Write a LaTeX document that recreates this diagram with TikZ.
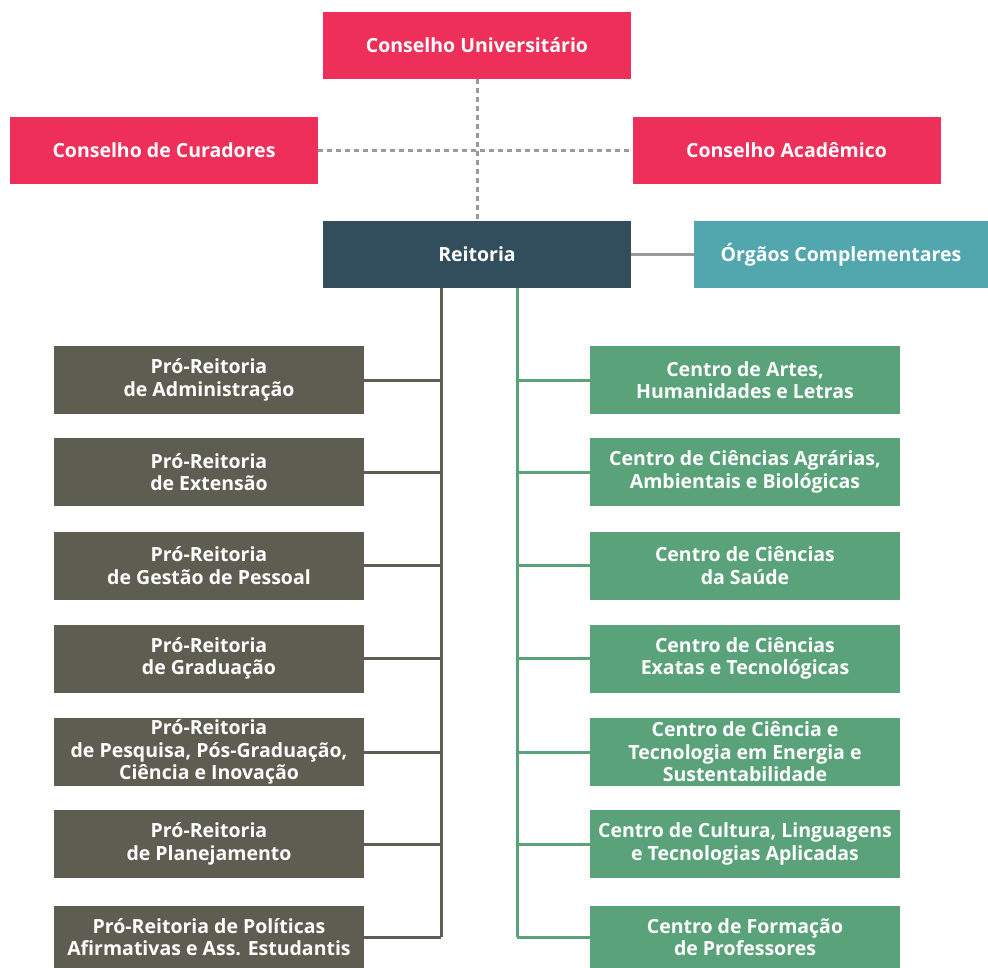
\documentclass[tikz,border=0pt]{standalone}
\usepackage{fontspec}
\setmainfont{Open Sans}
\definecolor{cpink}{HTML}{EE2F5A}
\definecolor{creit}{HTML}{324E5C}
\definecolor{corg}{HTML}{52A6AD}
\definecolor{cpro}{HTML}{5E5D52}
\definecolor{ccen}{HTML}{5AA37A}
\definecolor{cdot}{HTML}{9A9A9A}
\tikzset{
  box/.style={rectangle, inner sep=0pt, text=white, align=center,
    font=\fontsize{19.5}{22.5}\selectfont\bfseries, minimum width=308pt, minimum height=67pt},
  pink/.style={box, fill=cpink},
  reit/.style={box, fill=creit},
  orgbox/.style={box, fill=corg, minimum width=294pt},
  pro/.style={box, fill=cpro, minimum width=310pt, minimum height=68pt},
  cen/.style={box, fill=ccen, minimum width=310pt, minimum height=68pt},
  dots/.style={draw=cdot, line width=3pt, dash pattern=on 5pt off 4pt},
  proline/.style={draw=cpro, line width=3pt},
  cenline/.style={draw=ccen, line width=3pt},
  orgline/.style={draw=cdot, line width=3pt},
}
\begin{document}
\begin{tikzpicture}[x=1pt,y=-1pt]
\useasboundingbox (0,0) rectangle (988,967);
\node[pink] (cu) at (477,45.5) {Conselho Universitário};
\node[pink] (cc) at (164,150) {Conselho de Curadores};
\node[pink] (ca) at (786.5,150) {Conselho Acadêmico};
\node[reit] (re) at (477,254.5) {Reitoria};
\node[orgbox] (og) at (841,254.5) {Órgãos Complementares};

\node[pro] (p1) at (209,380) {Pró-Reitoria\\de Administração};
\node[pro] (p2) at (209,472) {Pró-Reitoria\\de Extensão};
\node[pro] (p3) at (209,565.5) {Pró-Reitoria\\de Gestão de Pessoal};
\node[pro] (p4) at (209,658.5) {Pró-Reitoria\\de Graduação};
\node[pro] (p5) at (209,752) {Pró-Reitoria\\de Pesquisa, Pós-Graduação,\\Ciência e Inovação};
\node[pro] (p6) at (209,844) {Pró-Reitoria\\de Planejamento};
\node[pro, minimum height=62pt] (p7) at (209,937) {Pró-Reitoria de Políticas\\Afirmativas e Ass. Estudantis};

\node[cen] (c1) at (745,380) {Centro de Artes,\\Humanidades e Letras};
\node[cen] (c2) at (745,472) {Centro de Ciências Agrárias,\\Ambientais e Biológicas};
\node[cen] (c3) at (745,565.5) {Centro de Ciências\\da Saúde};
\node[cen] (c4) at (745,658.5) {Centro de Ciências\\Exatas e Tecnológicas};
\node[cen] (c5) at (745,752) {Centro de Ciência e\\Tecnologia em Energia e\\Sustentabilidade};
\node[cen] (c6) at (745,844) {Centro de Cultura, Linguagens\\e Tecnologias Aplicadas};
\node[cen, minimum height=62pt] (c7) at (745,937) {Centro de Formação\\de Professores};

\draw[dots] (cu.south) -- (re.north);
\draw[dots] (cc.east) -- (ca.west);
\draw[orgline] (re.east) -- (og.west);

\coordinate (lt) at (441,288);
\coordinate (rt) at (517,288);
\draw[proline] (lt) -- (lt |- p7.east);
\foreach \n in {p1,p2,p3,p4,p5,p6,p7}
  \draw[proline] (\n.east) -- (\n.east -| lt);
\draw[cenline] (rt) -- (rt |- c7.west);
\foreach \n in {c1,c2,c3,c4,c5,c6,c7}
  \draw[cenline] (\n.west) -- (\n.west -| rt);
\end{tikzpicture}
\end{document}
